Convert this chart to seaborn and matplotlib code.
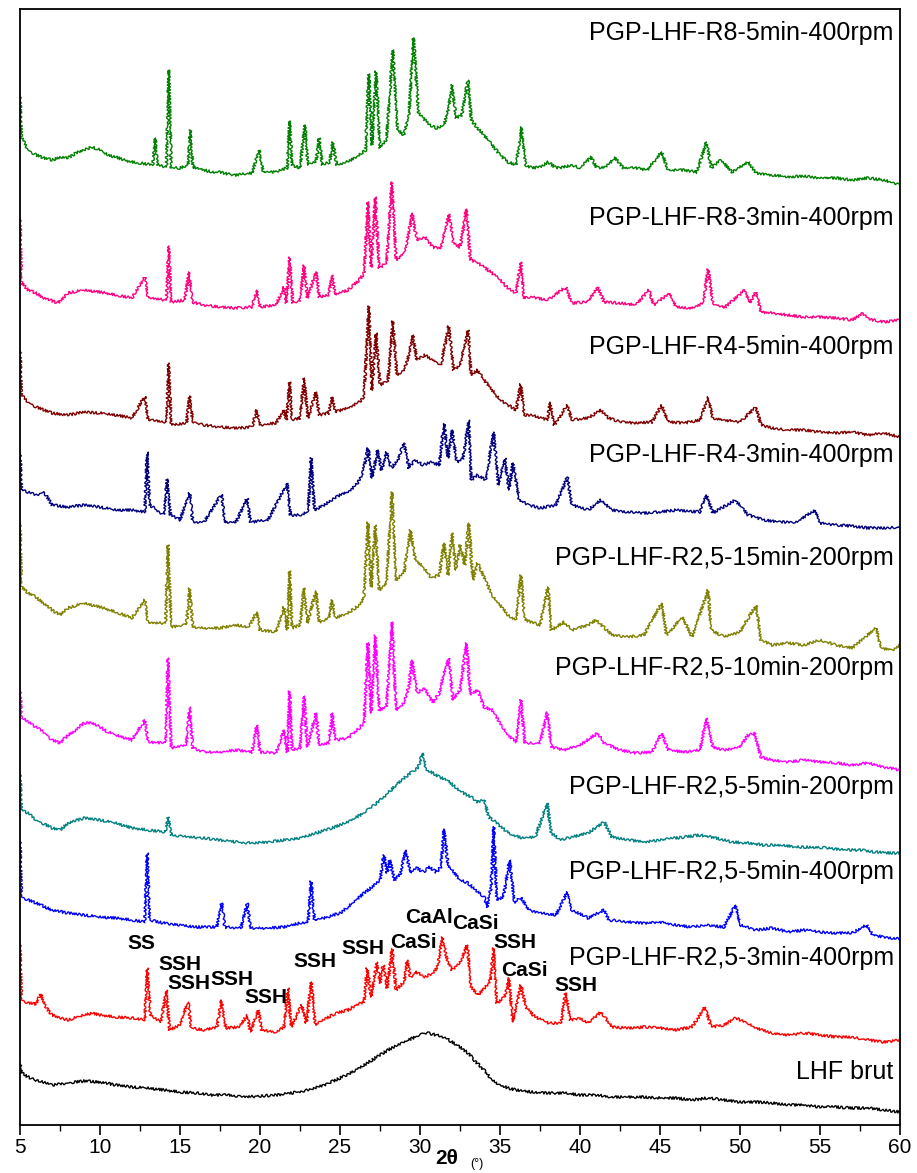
import matplotlib
matplotlib.use("Agg")
import matplotlib.pyplot as plt
import seaborn as sns

# XRD patterns, (2theta, stacked intensity a.u.)
r8_5min_400 = [(5.0, 1030), (5.1, 988), (5.5, 975), (6.0, 970), (6.5, 967), (7.0, 965), (7.5, 968), (8.0, 967),
    (8.5, 972), (9.0, 975), (9.5, 978), (10.0, 975), (10.5, 970), (11.0, 968), (11.5, 965), (12.0, 963),
    (12.5, 962), (13.3, 960), (13.45, 987), (13.6, 960), (14.15, 958), (14.3, 1055), (14.45, 957),
    (15.0, 957), (15.5, 960), (15.65, 995), (15.8, 958), (16.5, 955), (17.0, 953), (17.5, 953),
    (18.0, 951), (18.5, 950), (19.0, 951), (19.5, 952), (19.95, 975), (20.2, 953), (20.8, 953),
    (21.3, 955), (21.7, 957), (21.85, 1004), (22.0, 960), (22.5, 957), (22.8, 1000), (23.0, 960),
    (23.5, 963), (23.7, 987), (23.9, 960), (24.35, 963), (24.55, 983), (24.8, 960), (25.2, 962),
    (25.7, 965), (26.2, 970), (26.6, 975), (26.8, 1051), (27.0, 980), (27.25, 1054), (27.5, 977),
    (27.9, 985), (28.3, 1075), (28.6, 995), (29.0, 990), (29.3, 1010), (29.6, 1087), (29.9, 1013),
    (30.2, 1007), (30.6, 1000), (31.0, 997), (31.5, 1000), (31.75, 1015), (32.0, 1040), (32.25, 1007),
    (32.6, 1010), (33.0, 1045), (33.2, 1005), (33.6, 997), (34.0, 990), (34.5, 980), (35.0, 970),
    (35.5, 963), (36.0, 960), (36.35, 998), (36.6, 960), (37.0, 957), (37.5, 958), (38.0, 963),
    (38.5, 957), (39.0, 958), (39.5, 960), (40.0, 957), (40.7, 968), (41.0, 958), (41.5, 957),
    (42.2, 967), (42.7, 957), (43.5, 957), (44.2, 955), (45.1, 973), (45.5, 955), (46.5, 955),
    (47.3, 953), (47.9, 983), (48.2, 957), (48.8, 965), (49.5, 953), (50.5, 963), (51.0, 952),
    (52.0, 950), (53.0, 948), (54.0, 949), (55.0, 947), (56.0, 947), (57.0, 945), (58.0, 947),
    (59.0, 945), (60.0, 940)]

r8_3min_400 = [(5.0, 907), (5.1, 842), (5.5, 835), (6.0, 832), (6.5, 827), (7.4, 822), (8.0, 832),
    (9.0, 835), (10.0, 833), (11.0, 830), (12.0, 827), (12.8, 848), (13.0, 827), (14.15, 825),
    (14.3, 879), (14.45, 823), (15.3, 825), (15.55, 853), (15.75, 823), (16.5, 820), (17.5, 818),
    (18.5, 817), (19.5, 818), (19.8, 835), (20.0, 818), (21.0, 820), (21.5, 838), (21.65, 822),
    (21.85, 868), (22.05, 822), (22.5, 825), (22.75, 860), (22.95, 827), (23.5, 853), (23.7, 828),
    (24.3, 830), (24.5, 850), (24.7, 830), (25.5, 835), (26.2, 845), (26.5, 852), (26.75, 923),
    (26.95, 858), (27.2, 928), (27.45, 857), (27.9, 862), (28.25, 943), (28.5, 865), (29.0, 872),
    (29.3, 892), (29.5, 912), (29.8, 885), (30.3, 888), (30.8, 878), (31.3, 877), (31.8, 911),
    (32.1, 882), (32.5, 878), (32.9, 916), (33.15, 865), (33.5, 863), (34.0, 858), (34.5, 852),
    (35.0, 845), (35.5, 837), (36.0, 832), (36.3, 863), (36.5, 827), (37.0, 828), (38.0, 825),
    (39.1, 838), (39.5, 822), (40.5, 823), (41.1, 838), (41.5, 823), (42.5, 822), (43.5, 820),
    (44.3, 835), (44.6, 820), (45.6, 832), (46.0, 818), (47.0, 817), (47.7, 822), (48.0, 856),
    (48.3, 822), (49.0, 817), (50.3, 835), (50.6, 822), (51.0, 833), (51.3, 813), (52.0, 812),
    (53.0, 810), (54.0, 808), (55.0, 808), (56.0, 807), (57.0, 805), (57.7, 812), (58.0, 806),
    (59.0, 803), (60.0, 805)]

r4_5min_400 = [(5.0, 775), (5.1, 730), (5.5, 723), (6.0, 718), (7.0, 712), (8.0, 710), (9.0, 713),
    (10.0, 712), (11.0, 710), (12.0, 707), (12.8, 729), (13.0, 705), (14.15, 703), (14.3, 762),
    (14.45, 700), (15.4, 702), (15.6, 729), (15.8, 702), (16.5, 700), (17.5, 698), (18.5, 697),
    (19.5, 698), (19.8, 715), (20.0, 700), (21.0, 702), (21.5, 715), (21.65, 705), (21.85, 743),
    (22.0, 705), (22.5, 707), (22.75, 747), (23.0, 707), (23.5, 733), (23.7, 710), (24.3, 712),
    (24.5, 728), (24.7, 713), (25.5, 717), (26.2, 723), (26.5, 728), (26.8, 819), (27.0, 735),
    (27.25, 792), (27.5, 740), (28.0, 745), (28.3, 804), (28.55, 750), (29.0, 755), (29.3, 770),
    (29.55, 790), (29.8, 765), (30.3, 770), (30.8, 765), (31.3, 760), (31.8, 799), (32.1, 755),
    (32.5, 760), (33.0, 795), (33.2, 750), (33.6, 755), (34.0, 745), (34.5, 735), (35.0, 725),
    (35.5, 720), (36.0, 715), (36.3, 741), (36.5, 710), (37.0, 710), (38.0, 705), (38.1, 723),
    (38.4, 700), (39.2, 720), (39.5, 705), (40.5, 707), (41.3, 715), (41.8, 707), (42.5, 703),
    (43.5, 702), (44.5, 703), (45.1, 720), (45.5, 703), (46.5, 702), (47.5, 705), (48.0, 728),
    (48.3, 707), (49.0, 705), (50.0, 703), (51.0, 718), (51.3, 700), (52.0, 697), (53.0, 695),
    (54.0, 695), (55.0, 693), (56.0, 692), (57.0, 693), (58.0, 690), (59.0, 692), (60.0, 688)]

r4_3min_400 = [(5.0, 672), (5.1, 635), (5.5, 633), (6.0, 630), (6.5, 633), (7.0, 620), (8.0, 618),
    (9.0, 620), (10.0, 618), (11.0, 615), (12.0, 615), (12.8, 613), (12.95, 673), (13.1, 620),
    (14.0, 610), (14.2, 646), (14.4, 610), (15.0, 605), (15.6, 632), (15.8, 603), (16.5, 603),
    (17.6, 631), (17.8, 603), (18.5, 603), (19.2, 627), (19.4, 603), (20.5, 605), (21.7, 642),
    (21.9, 610), (22.5, 610), (23.0, 613), (23.2, 667), (23.4, 615), (24.0, 620), (24.5, 625),
    (25.0, 630), (25.5, 633), (26.0, 640), (26.4, 650), (26.75, 677), (27.0, 647), (27.35, 675),
    (27.6, 655), (27.9, 673), (28.2, 657), (28.6, 665), (29.0, 682), (29.3, 657), (29.7, 665),
    (30.2, 660), (30.7, 663), (31.2, 660), (31.5, 701), (31.75, 667), (32.0, 695), (32.3, 663),
    (32.7, 667), (33.05, 705), (33.2, 645), (33.6, 650), (34.1, 645), (34.6, 693), (34.9, 640),
    (35.3, 667), (35.55, 635), (35.8, 662), (36.2, 625), (36.8, 620), (37.5, 617), (38.5, 620),
    (39.2, 648), (39.5, 620), (40.5, 615), (41.3, 625), (42.0, 615), (43.0, 613), (44.0, 612),
    (45.0, 613), (46.0, 615), (47.5, 613), (47.9, 630), (48.3, 612), (49.7, 625), (50.5, 610),
    (51.5, 605), (52.5, 603), (53.5, 603), (54.7, 615), (55.0, 602), (56.0, 600), (57.0, 599),
    (58.0, 597), (59.0, 597), (60.0, 598)]

r25_15min_200 = [(5.0, 602), (5.1, 538), (5.5, 532), (6.0, 528), (7.0, 515), (7.5, 510), (8.0, 517),
    (9.0, 522), (10.0, 518), (11.0, 513), (12.0, 507), (12.8, 525), (13.0, 502), (14.1, 502),
    (14.25, 580), (14.45, 498), (15.4, 500), (15.6, 537), (15.8, 498), (16.5, 497), (17.5, 497),
    (18.5, 500), (19.3, 498), (19.8, 513), (20.0, 495), (21.0, 493), (21.5, 518), (21.7, 495),
    (21.85, 554), (22.0, 497), (22.5, 500), (22.75, 537), (22.95, 502), (23.5, 534), (23.7, 503),
    (24.3, 507), (24.5, 525), (24.7, 507), (25.5, 512), (26.2, 520), (26.5, 528), (26.75, 603),
    (26.95, 538), (27.2, 600), (27.45, 535), (27.9, 542), (28.25, 633), (28.5, 545), (29.0, 553),
    (29.4, 595), (29.7, 565), (30.2, 558), (30.7, 547), (31.2, 550), (31.5, 582), (31.75, 550),
    (32.0, 592), (32.25, 555), (32.5, 580), (32.8, 560), (33.05, 602), (33.3, 545), (33.6, 562),
    (34.0, 548), (34.5, 530), (35.0, 520), (35.5, 510), (36.0, 505), (36.3, 550), (36.55, 505),
    (37.5, 500), (38.0, 538), (38.2, 495), (39.0, 503), (39.5, 495), (40.5, 500), (41.0, 505),
    (42.0, 490), (43.0, 488), (44.0, 490), (45.1, 522), (45.4, 490), (46.4, 508), (47.0, 488),
    (48.0, 535), (48.2, 495), (49.0, 488), (50.0, 493), (51.0, 520), (51.3, 485), (52.0, 480),
    (53.0, 482), (54.0, 480), (55.0, 485), (56.0, 480), (57.0, 477), (58.5, 497), (58.8, 477),
    (59.5, 475), (60.0, 480)]

r25_10min_200 = [(5.0, 435), (5.1, 408), (5.5, 403), (6.0, 398), (6.5, 393), (7.0, 385), (7.5, 382),
    (8.0, 390), (8.5, 395), (9.0, 402), (9.5, 402), (10.0, 398), (10.5, 393), (11.0, 390), (12.0, 385),
    (12.8, 405), (13.0, 383), (14.1, 382), (14.25, 467), (14.45, 377), (15.4, 380), (15.6, 418),
    (15.8, 377), (16.5, 373), (17.5, 373), (18.5, 375), (19.5, 373), (19.8, 400), (20.0, 373),
    (21.0, 372), (21.5, 395), (21.7, 373), (21.85, 434), (22.0, 375), (22.5, 377), (22.75, 429),
    (22.95, 378), (23.5, 412), (23.7, 380), (24.3, 382), (24.5, 412), (24.7, 385), (25.5, 387),
    (26.2, 397), (26.5, 402), (26.75, 482), (26.95, 412), (27.2, 490), (27.45, 415), (27.9, 418),
    (28.25, 503), (28.5, 415), (29.0, 422), (29.3, 438), (29.5, 465), (29.8, 432), (30.3, 437),
    (30.8, 422), (31.2, 432), (31.5, 452), (31.8, 467), (32.05, 425), (32.5, 435), (32.9, 482),
    (33.15, 430), (33.6, 435), (34.0, 418), (34.5, 415), (35.0, 402), (35.5, 390), (36.0, 383),
    (36.3, 425), (36.55, 382), (37.5, 382), (37.95, 413), (38.2, 378), (39.0, 375), (40.0, 380),
    (41.1, 392), (41.5, 382), (42.5, 375), (43.5, 372), (44.5, 373), (45.1, 392), (45.5, 375),
    (46.5, 373), (47.5, 375), (47.9, 407), (48.3, 378), (49.0, 375), (50.0, 378), (50.5, 390),
    (50.9, 392), (51.3, 368), (52.0, 365), (53.0, 363), (54.0, 365), (55.0, 363), (56.0, 362),
    (57.0, 360), (58.0, 362), (59.0, 358), (60.0, 355)]

r25_5min_200 = [(5.0, 352), (5.1, 315), (5.5, 312), (6.0, 305), (7.0, 297), (7.5, 295), (8.0, 302),
    (9.0, 307), (10.0, 305), (11.0, 302), (12.0, 297), (13.0, 295), (14.1, 293), (14.25, 308),
    (14.45, 290), (15.5, 288), (16.5, 287), (17.5, 285), (18.5, 283), (19.5, 282), (20.5, 283),
    (21.5, 285), (22.5, 287), (23.5, 292), (24.5, 297), (25.5, 303), (26.5, 312), (27.0, 318),
    (27.5, 325), (28.0, 332), (28.5, 340), (29.0, 347), (29.5, 353), (29.9, 358), (30.15, 372),
    (30.4, 355), (30.8, 352), (31.2, 348), (31.7, 345), (32.2, 338), (32.7, 332), (33.2, 328),
    (33.6, 323), (34.0, 325), (34.3, 308), (34.8, 302), (35.3, 295), (35.8, 290), (36.4, 287),
    (37.2, 288), (37.95, 322), (38.2, 292), (38.8, 285), (39.5, 288), (40.5, 292), (41.5, 303),
    (42.0, 288), (43.0, 285), (44.0, 283), (45.0, 285), (46.0, 287), (47.5, 290), (48.5, 287),
    (49.5, 283), (50.5, 282), (51.5, 280), (52.5, 280), (53.5, 278), (54.5, 278), (55.5, 277),
    (56.5, 275), (57.5, 275), (58.5, 273), (59.5, 272), (60.0, 272)]

r25_5min_400 = [(5.0, 285), (5.1, 228), (5.5, 225), (6.0, 222), (7.0, 215), (8.0, 212), (9.0, 210),
    (10.0, 208), (11.0, 207), (12.0, 205), (12.8, 203), (12.95, 272), (13.1, 205), (14.0, 202),
    (15.0, 200), (16.0, 198), (17.3, 198), (17.6, 222), (17.8, 198), (18.8, 197), (19.2, 222),
    (19.4, 197), (20.5, 197), (21.5, 198), (22.5, 202), (23.0, 203), (23.2, 244), (23.4, 205),
    (24.0, 207), (25.0, 212), (25.5, 218), (26.0, 225), (26.5, 232), (27.0, 238), (27.5, 245),
    (27.75, 270), (27.95, 252), (28.1, 265), (28.4, 245), (28.8, 252), (29.1, 275), (29.4, 252),
    (29.8, 257), (30.2, 253), (30.6, 258), (31.0, 253), (31.3, 258), (31.5, 296), (31.75, 260),
    (32.0, 255), (32.5, 245), (33.0, 242), (33.5, 235), (34.0, 228), (34.2, 218), (34.45, 238),
    (34.6, 298), (34.8, 225), (35.2, 228), (35.6, 265), (35.9, 222), (36.3, 228), (36.8, 215),
    (37.5, 212), (38.5, 210), (39.2, 233), (39.5, 215), (40.5, 207), (41.5, 215), (41.8, 205),
    (43.0, 203), (44.0, 202), (45.0, 203), (46.0, 200), (47.0, 198), (48.0, 200), (49.0, 198),
    (49.7, 220), (50.0, 200), (51.0, 195), (52.0, 197), (53.0, 193), (54.0, 195), (55.0, 193),
    (56.0, 192), (57.0, 192), (57.9, 200), (58.3, 190), (59.0, 188), (60.0, 186)]

r25_3min_400 = [(5.0, 182), (5.1, 125), (5.5, 122), (6.0, 121), (6.3, 131), (6.6, 118), (7.0, 110),
    (7.5, 107), (8.0, 105), (9.0, 110), (9.5, 112), (10.0, 110), (11.0, 108), (12.0, 107), (12.8, 105),
    (12.95, 157), (13.15, 110), (13.8, 103), (14.15, 135), (14.35, 95), (15.0, 100), (15.5, 123),
    (15.7, 97), (16.5, 95), (17.3, 98), (17.6, 125), (17.85, 97), (18.7, 98), (19.2, 110), (19.4, 93),
    (19.9, 115), (20.1, 95), (21.0, 93), (21.5, 98), (21.75, 137), (21.95, 98), (22.6, 120),
    (22.9, 102), (23.2, 143), (23.45, 100), (24.0, 105), (24.5, 110), (25.0, 113), (25.5, 115),
    (26.0, 120), (26.5, 123), (26.7, 157), (26.95, 128), (27.3, 163), (27.5, 142), (27.7, 160),
    (27.95, 137), (28.25, 176), (28.5, 135), (29.0, 143), (29.2, 165), (29.4, 148), (29.8, 153),
    (30.3, 148), (30.8, 152), (31.1, 158), (31.4, 188), (31.7, 165), (32.0, 155), (32.5, 162),
    (32.95, 180), (33.2, 138), (33.6, 130), (34.1, 138), (34.4, 145), (34.6, 177), (34.8, 122),
    (35.3, 128), (35.55, 147), (35.8, 103), (36.3, 140), (36.6, 118), (37.2, 108), (38.0, 102),
    (38.8, 102), (39.1, 132), (39.4, 105), (40.0, 107), (40.5, 102), (41.3, 113), (42.0, 98),
    (43.0, 97), (44.0, 98), (45.0, 97), (46.0, 95), (47.0, 98), (47.8, 118), (48.2, 98), (49.0, 100),
    (49.7, 107), (50.5, 102), (51.0, 97), (52.0, 92), (53.0, 90), (54.0, 92), (55.0, 90), (56.0, 88),
    (57.0, 88), (58.0, 85), (59.0, 83), (60.0, 85)]

lhf_brut = [(5.0, 62), (5.1, 52), (5.5, 48), (6.0, 45), (7.0, 40), (8.0, 42), (9.0, 44), (10.0, 43),
    (11.0, 40), (12.0, 38), (13.0, 37), (14.0, 35), (15.0, 33), (16.0, 32), (17.0, 30), (18.0, 30),
    (19.0, 28), (20.0, 29), (21.0, 30), (22.0, 32), (23.0, 35), (24.0, 40), (25.0, 47), (26.0, 55),
    (27.0, 65), (28.0, 75), (29.0, 83), (30.0, 90), (30.5, 92), (31.0, 90), (31.5, 88), (32.0, 83),
    (32.5, 78), (33.0, 72), (33.5, 63), (34.0, 55), (34.5, 45), (35.0, 40), (35.5, 37), (36.0, 35),
    (37.0, 33), (38.0, 32), (39.0, 32), (40.0, 30), (41.0, 30), (42.0, 28), (43.0, 28), (44.0, 28),
    (45.0, 27), (46.0, 27), (47.0, 25), (48.0, 27), (49.0, 25), (50.0, 23), (51.0, 23), (52.0, 22),
    (53.0, 20), (54.0, 20), (55.0, 18), (56.0, 18), (57.0, 17), (58.0, 17), (59.0, 15), (60.0, 13)]

samples = ["PGP-LHF-R8-5min-400rpm", "PGP-LHF-R8-3min-400rpm", "PGP-LHF-R4-5min-400rpm",
           "PGP-LHF-R4-3min-400rpm", "PGP-LHF-R2,5-15min-200rpm", "PGP-LHF-R2,5-10min-200rpm",
           "PGP-LHF-R2,5-5min-200rpm", "PGP-LHF-R2,5-5min-400rpm", "PGP-LHF-R2,5-3min-400rpm",
           "LHF brut"]
patterns = [r8_5min_400, r8_3min_400, r4_5min_400, r4_3min_400, r25_15min_200,
            r25_10min_200, r25_5min_200, r25_5min_400, r25_3min_400, lhf_brut]

# phase labels on the R2,5-3min-400rpm pattern
phases = ["SS", "SSH", "SSH", "SSH", "SSH", "SSH", "SSH", "CaSi", "CaAl", "CaSi", "SSH", "CaSi", "SSH"]
phase_pos = [(12.6, 182), (15.0, 161), (15.55, 142), (18.25, 146), (20.4, 128), (23.45, 164),
             (26.45, 177), (29.6, 183), (30.55, 208), (33.45, 202), (35.95, 183), (36.55, 155),
             (39.75, 140)]

colors = ["#008000", "#FF0080", "#800000", "#000080", "#808000",
          "#FF00FF", "#008080", "#0000FF", "#FF0000", "#000000"]
label_y = [1092, 907, 778, 670, 567, 457, 338, 253, 167, 53]

sns.set_style("white")
plt.rcParams['font.family'] = ['Liberation Sans', 'DejaVu Sans']
plt.rcParams['text.color'] = 'black'
plt.rcParams['xtick.color'] = 'black'

fig = plt.figure(figsize=(9.17, 11.73), dpi=100)
ax = fig.add_axes([0.0218, 0.0409, 0.9597, 0.9514])

for pts, col, name, ly in zip(patterns, colors, samples, label_y):
    xs = [p[0] for p in pts]
    ys = [p[1] for p in pts]
    sns.lineplot(x=xs, y=ys, color=col, lw=1.0, ax=ax)
    # noisy-looking stroke, the data points themselves stay as read
    ax.lines[-1].set_sketch_params(scale=1.3, length=1.5, randomness=1.5)
    ax.text(59.6, ly, name, ha="right", va="center", fontsize=18)

for txt, (px, py) in zip(phases, phase_pos):
    ax.text(px, py, txt, ha="center", va="center", fontsize=15, fontweight="bold")

ax.set_xlim(5, 60)
ax.set_ylim(0, 1116)
ax.set_xticks(range(5, 61, 5))
ax.set_xticks([x + 2.5 for x in range(5, 60, 5)], minor=True)
ax.set_yticks([])
ax.tick_params(axis="x", which="major", direction="out", length=7, width=1.2,
               labelsize=15, pad=2, bottom=True, labelcolor="black")
ax.tick_params(axis="x", which="minor", direction="out", length=4, width=1.0, bottom=True)
for s in ax.spines.values():
    s.set_linewidth(1.3)
    s.set_color("black")

fig.text(447 / 917, 1 - 1158 / 1173, "2θ", ha="center", va="center", fontsize=15, fontweight="bold")
fig.text(477 / 917, 1 - 1164 / 1173, "(°)", ha="center", va="center", fontsize=9)

fig.savefig("out.png", dpi=100)
